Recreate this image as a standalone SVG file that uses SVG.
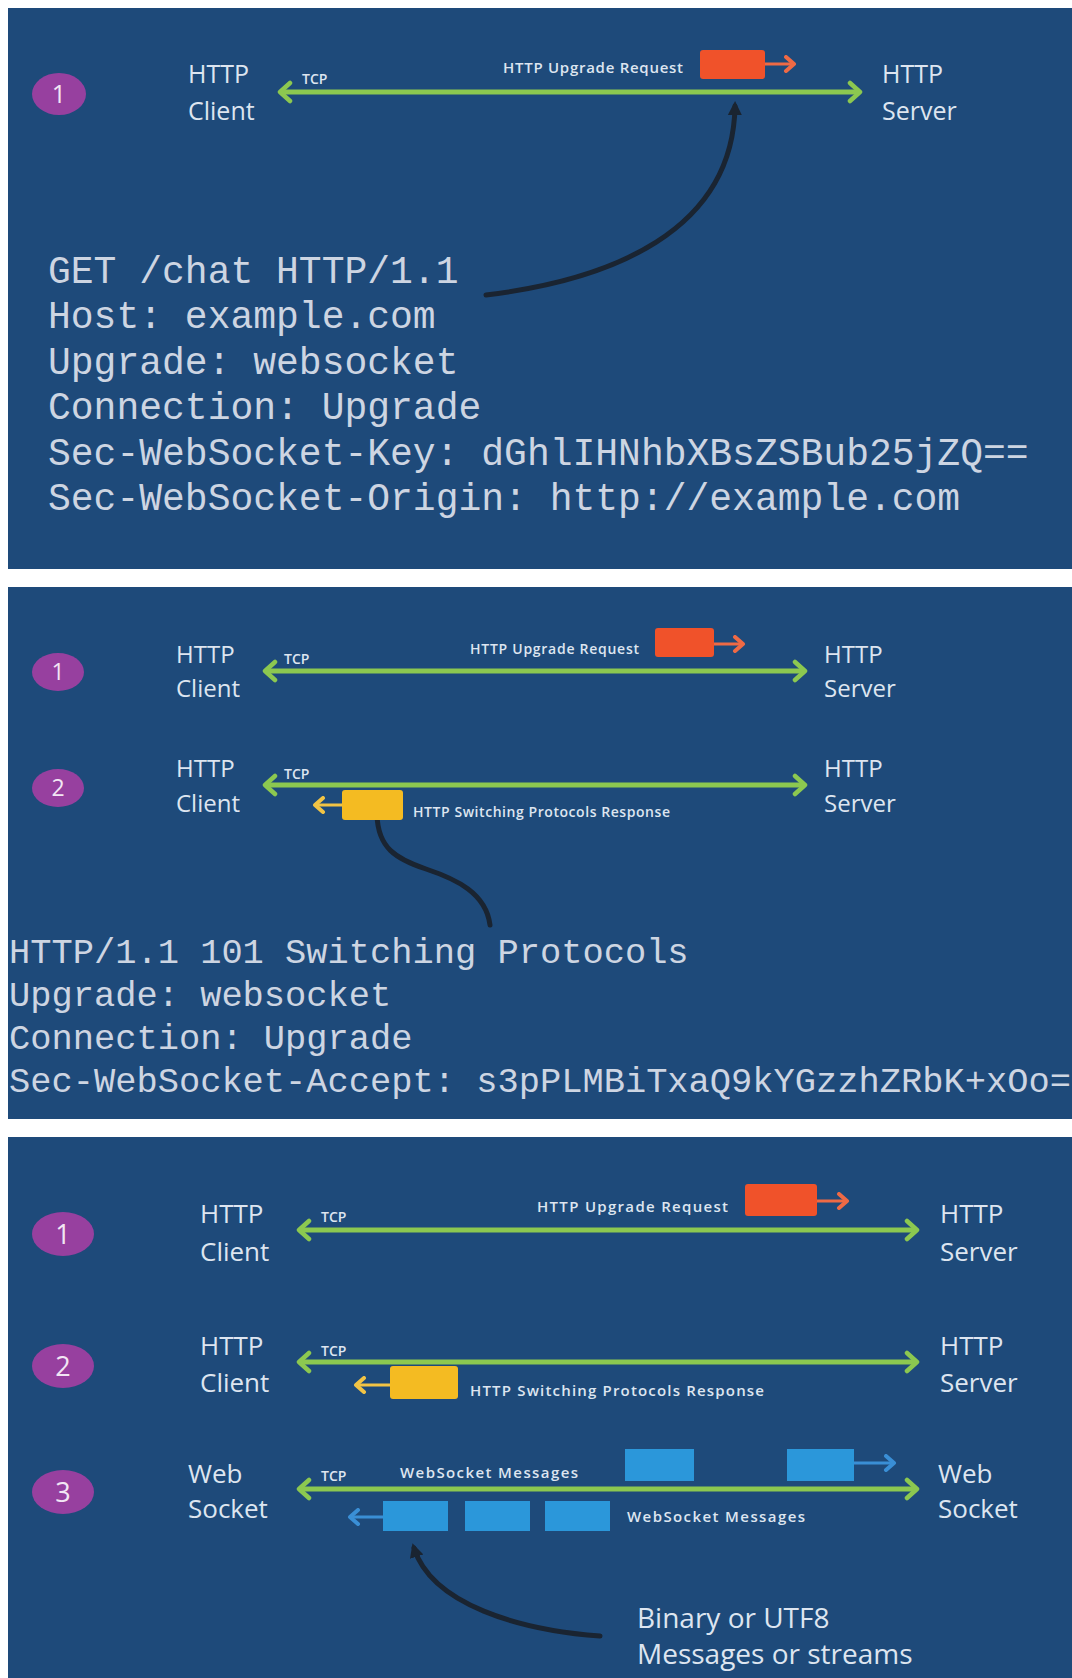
<svg xmlns="http://www.w3.org/2000/svg" width="1072" height="1678" viewBox="0 0 1072 1678">
<defs>
<style>
.bg{fill:#1e4a7a}
.lbl{fill:#dde5f0;font-family:"Open Sans","Liberation Sans",sans-serif}
.big{font-size:25px}
.sm{font-weight:600}
.tcp{font-size:14px;font-weight:600}
.mono{fill:#cdd5e2;font-family:"Liberation Mono","Courier New",monospace}
.num{fill:#97409f}
.digit{fill:#f2e6f4;font-family:"Open Sans","Liberation Sans",sans-serif;text-anchor:middle}
.wire{stroke:#8cc850;stroke-width:5;fill:none}
.curve{stroke:#1a2431;stroke-width:5;fill:none;stroke-linecap:round}
.oarr{stroke:#ef6a45;stroke-width:3;fill:none}
.yarr{stroke:#f2c445;stroke-width:3;fill:none}
.barr{stroke:#3a8fd6;stroke-width:3;fill:none}
.org{fill:#f0522a}
.yel{fill:#f4bb22}
.blu{fill:#2b97da}
</style>
<marker id="gHead" markerUnits="userSpaceOnUse" markerWidth="16" markerHeight="24" viewBox="0 0 16 24" refX="13" refY="12" orient="auto-start-reverse"><path d="M3,3 L13,12 L3,21" fill="none" stroke="#8cc850" stroke-width="4.5" stroke-linecap="round" stroke-linejoin="round"/></marker>
<marker id="oHead" markerUnits="userSpaceOnUse" markerWidth="14" markerHeight="18" viewBox="0 0 14 18" refX="11" refY="9" orient="auto"><path d="M3,2 L11,9 L3,16" fill="none" stroke="#ef6a45" stroke-width="4" stroke-linecap="round" stroke-linejoin="round"/></marker>
<marker id="yHead" markerUnits="userSpaceOnUse" markerWidth="14" markerHeight="18" viewBox="0 0 14 18" refX="11" refY="9" orient="auto"><path d="M3,2 L11,9 L3,16" fill="none" stroke="#f2c445" stroke-width="4" stroke-linecap="round" stroke-linejoin="round"/></marker>
<marker id="bHead" markerUnits="userSpaceOnUse" markerWidth="14" markerHeight="18" viewBox="0 0 14 18" refX="11" refY="9" orient="auto"><path d="M3,2 L11,9 L3,16" fill="none" stroke="#3a8fd6" stroke-width="4" stroke-linecap="round" stroke-linejoin="round"/></marker>
<marker id="dHead" markerUnits="userSpaceOnUse" markerWidth="16" markerHeight="16" viewBox="0 0 16 16" refX="9" refY="8" orient="auto"><path d="M0,1 L14,8 L0,15 z" fill="#1a2431"/></marker>
</defs>

<rect class="bg" x="8" y="8" width="1064" height="561"/>
<rect class="bg" x="8" y="587" width="1064" height="532"/>
<rect class="bg" x="8" y="1137" width="1064" height="541"/>

<g id="connectors">
  <line class="wire" x1="280" y1="92" x2="860" y2="92" marker-start="url(#gHead)" marker-end="url(#gHead)"/>
  <line class="oarr" x1="765" y1="64" x2="794" y2="64" marker-end="url(#oHead)"/>
  <path class="curve" d="M486,295 C610,280 733,232 735,106" marker-end="url(#dHead)"/>
  <line class="wire" x1="265" y1="671" x2="805" y2="671" marker-start="url(#gHead)" marker-end="url(#gHead)"/>
  <line class="oarr" x1="714" y1="644" x2="743" y2="644" marker-end="url(#oHead)"/>
  <line class="wire" x1="265" y1="785" x2="805" y2="785" marker-start="url(#gHead)" marker-end="url(#gHead)"/>
  <line class="yarr" x1="342" y1="805" x2="315" y2="805" marker-end="url(#yHead)"/>
  <path class="curve" d="M490,925 C486,893 456,879 426,869 C396,859 378,848 377,815"/>
  <line class="wire" x1="299" y1="1230" x2="917" y2="1230" marker-start="url(#gHead)" marker-end="url(#gHead)"/>
  <line class="oarr" x1="817" y1="1201" x2="847" y2="1201" marker-end="url(#oHead)"/>
  <line class="wire" x1="299" y1="1362" x2="917" y2="1362" marker-start="url(#gHead)" marker-end="url(#gHead)"/>
  <line class="yarr" x1="390" y1="1385" x2="356" y2="1385" marker-end="url(#yHead)"/>
  <line class="wire" x1="299" y1="1489" x2="917" y2="1489" marker-start="url(#gHead)" marker-end="url(#gHead)"/>
  <line class="barr" x1="854" y1="1463" x2="894" y2="1463" marker-end="url(#bHead)"/>
  <line class="barr" x1="383" y1="1517" x2="350" y2="1517" marker-end="url(#bHead)"/>
  <path class="curve" d="M600,1636 C520,1630 432,1605 414,1548" marker-end="url(#dHead)"/>
</g>

<!-- Panel 1 -->
<g id="p1-step1"><ellipse class="num" cx="59" cy="94" rx="27" ry="21"/><text class="digit" x="59" y="103" font-size="25">1</text></g>
<g id="p1-client"><text class="lbl big" x="188" y="83">HTTP</text><text class="lbl big" x="188" y="120">Client</text></g>
<g id="p1-server"><text class="lbl big" x="882" y="83">HTTP</text><text class="lbl big" x="882" y="120">Server</text></g>
<g id="p1-tcp"><text class="lbl tcp" x="302" y="84">TCP</text></g>
<g id="p1-upgrade"><text class="lbl sm" x="503" y="73" font-size="15" textLength="180">HTTP Upgrade Request</text><rect class="org" x="700" y="50" width="65" height="29" rx="3"/></g>
<g id="p1-request" class="mono" font-size="38">
  <text x="48" y="283">GET /chat HTTP/1.1</text>
  <text x="48" y="328">Host: example.com</text>
  <text x="48" y="374">Upgrade: websocket</text>
  <text x="48" y="419">Connection: Upgrade</text>
  <text x="48" y="465">Sec-WebSocket-Key: dGhlIHNhbXBsZSBub25jZQ==</text>
  <text x="48" y="510">Sec-WebSocket-Origin: http://example.com</text>
</g>

<!-- Panel 2 -->
<g id="p2-step1"><ellipse class="num" cx="58" cy="672" rx="26" ry="19"/><text class="digit" x="58" y="680" font-size="23">1</text></g>
<g id="p2-client1"><text class="lbl" font-size="24" x="176" y="663">HTTP</text><text class="lbl" font-size="24" x="176" y="697">Client</text></g>
<g id="p2-server1"><text class="lbl" font-size="24" x="824" y="663">HTTP</text><text class="lbl" font-size="24" x="824" y="697">Server</text></g>
<g id="p2-tcp1"><text class="lbl tcp" x="284" y="664" font-size="13">TCP</text></g>
<g id="p2-upgrade"><text class="lbl sm" x="470" y="654" font-size="14" textLength="169">HTTP Upgrade Request</text><rect class="org" x="655" y="628" width="59" height="29" rx="3"/></g>
<g id="p2-step2"><ellipse class="num" cx="58" cy="788" rx="26" ry="19"/><text class="digit" x="58" y="796" font-size="23">2</text></g>
<g id="p2-client2"><text class="lbl" font-size="24" x="176" y="777">HTTP</text><text class="lbl" font-size="24" x="176" y="812">Client</text></g>
<g id="p2-server2"><text class="lbl" font-size="24" x="824" y="777">HTTP</text><text class="lbl" font-size="24" x="824" y="812">Server</text></g>
<g id="p2-tcp2"><text class="lbl tcp" x="284" y="779" font-size="13">TCP</text></g>
<g id="p2-switch"><rect class="yel" x="342" y="790" width="61" height="30" rx="3"/><text class="lbl sm" x="413" y="817" font-size="14" textLength="257">HTTP Switching Protocols Response</text></g>
<g id="p2-response" class="mono" font-size="35.4">
  <text x="9" y="963">HTTP/1.1 101 Switching Protocols</text>
  <text x="9" y="1006">Upgrade: websocket</text>
  <text x="9" y="1049">Connection: Upgrade</text>
  <text x="9" y="1092">Sec-WebSocket-Accept: s3pPLMBiTxaQ9kYGzzhZRbK+xOo=</text>
</g>

<!-- Panel 3 -->
<g id="p3-step1"><ellipse class="num" cx="63" cy="1234" rx="31" ry="22"/><text class="digit" x="63" y="1244" font-size="27">1</text></g>
<g id="p3-client1"><text class="lbl" font-size="26" x="200" y="1223">HTTP</text><text class="lbl" font-size="26" x="200" y="1261">Client</text></g>
<g id="p3-server1"><text class="lbl" font-size="26" x="940" y="1223">HTTP</text><text class="lbl" font-size="26" x="940" y="1261">Server</text></g>
<g id="p3-tcp1"><text class="lbl tcp" x="321" y="1222">TCP</text></g>
<g id="p3-upgrade"><text class="lbl sm" x="537" y="1212" font-size="15" textLength="191">HTTP Upgrade Request</text><rect class="org" x="745" y="1184" width="72" height="32" rx="3"/></g>
<g id="p3-step2"><ellipse class="num" cx="63" cy="1366" rx="31" ry="22"/><text class="digit" x="63" y="1376" font-size="27">2</text></g>
<g id="p3-client2"><text class="lbl" font-size="26" x="200" y="1355">HTTP</text><text class="lbl" font-size="26" x="200" y="1392">Client</text></g>
<g id="p3-server2"><text class="lbl" font-size="26" x="940" y="1355">HTTP</text><text class="lbl" font-size="26" x="940" y="1392">Server</text></g>
<g id="p3-tcp2"><text class="lbl tcp" x="321" y="1356">TCP</text></g>
<g id="p3-switch"><rect class="yel" x="390" y="1366" width="68" height="33" rx="3"/><text class="lbl sm" x="470" y="1396" font-size="15" textLength="294">HTTP Switching Protocols Response</text></g>
<g id="p3-step3"><ellipse class="num" cx="63" cy="1492" rx="31" ry="22"/><text class="digit" x="63" y="1502" font-size="27">3</text></g>
<g id="p3-ws-left"><text class="lbl" font-size="26" x="188" y="1483">Web</text><text class="lbl" font-size="26" x="188" y="1518">Socket</text></g>
<g id="p3-ws-right"><text class="lbl" font-size="26" x="938" y="1483">Web</text><text class="lbl" font-size="26" x="938" y="1518">Socket</text></g>
<g id="p3-tcp3"><text class="lbl tcp" x="321" y="1481">TCP</text></g>
<g id="p3-msgs-out"><text class="lbl sm" x="400" y="1478" font-size="15" textLength="178">WebSocket Messages</text><rect class="blu" x="625" y="1449" width="69" height="32"/><rect class="blu" x="787" y="1449" width="67" height="32"/></g>
<g id="p3-msgs-in"><rect class="blu" x="383" y="1501" width="65" height="30"/><rect class="blu" x="465" y="1501" width="65" height="30"/><rect class="blu" x="545" y="1501" width="65" height="30"/><text class="lbl sm" x="627" y="1522" font-size="15" textLength="178">WebSocket Messages</text></g>
<g id="p3-note"><text class="lbl" font-size="28" x="637" y="1628">Binary or UTF8</text><text class="lbl" font-size="28" x="637" y="1664">Messages or streams</text></g>
</svg>
